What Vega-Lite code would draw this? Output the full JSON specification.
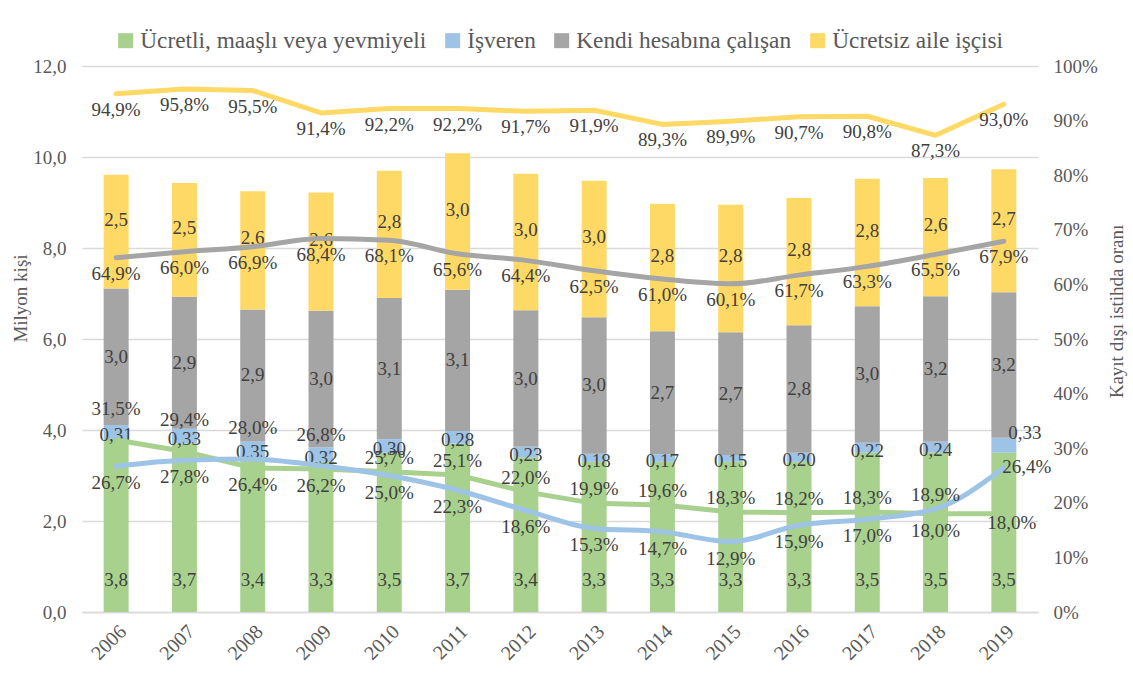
{
  "$schema": "https://vega.github.io/schema/vega-lite/v6.json",
  "width": 956,
  "height": 546,
  "autosize": {"type": "none"},
  "padding": {"left": 82, "top": 66, "right": 95, "bottom": 77},
  "background": "white",
  "config": {
    "locale": {"number": {"decimal": ",", "thousands": ".", "grouping": [3], "currency": ["", " TL"]}},
    "font": "Liberation Serif",
    "view": {"stroke": null},
    "text": {"font": "Liberation Serif", "fontSize": 19, "color": "#404040"},
    "axis": {"labelFont": "Liberation Serif", "titleFont": "Liberation Serif", "labelColor": "#595959", "titleColor": "#595959", "labelFontSize": 19, "titleFontSize": 19, "titleFontWeight": "normal"},
    "legend": {"labelFont": "Liberation Serif", "labelFontSize": 23.3, "labelColor": "#595959", "labelLimit": 0, "symbolType": "square", "symbolSize": 225, "symbolStrokeWidth": 0, "labelOffset": 3, "columnPadding": 14}
  },
  "datasets": {
    "bars": [
      {"year": "2006", "category": "Ücretli, maaşlı veya yevmiyeli", "rank": 1, "value": 3.8},
      {"year": "2006", "category": "İşveren", "rank": 2, "value": 0.31},
      {"year": "2006", "category": "Kendi hesabına çalışan", "rank": 3, "value": 3.0},
      {"year": "2006", "category": "Ücretsiz aile işçisi", "rank": 4, "value": 2.5},
      {"year": "2007", "category": "Ücretli, maaşlı veya yevmiyeli", "rank": 1, "value": 3.7},
      {"year": "2007", "category": "İşveren", "rank": 2, "value": 0.33},
      {"year": "2007", "category": "Kendi hesabına çalışan", "rank": 3, "value": 2.9},
      {"year": "2007", "category": "Ücretsiz aile işçisi", "rank": 4, "value": 2.5},
      {"year": "2008", "category": "Ücretli, maaşlı veya yevmiyeli", "rank": 1, "value": 3.4},
      {"year": "2008", "category": "İşveren", "rank": 2, "value": 0.35},
      {"year": "2008", "category": "Kendi hesabına çalışan", "rank": 3, "value": 2.9},
      {"year": "2008", "category": "Ücretsiz aile işçisi", "rank": 4, "value": 2.6},
      {"year": "2009", "category": "Ücretli, maaşlı veya yevmiyeli", "rank": 1, "value": 3.3},
      {"year": "2009", "category": "İşveren", "rank": 2, "value": 0.32},
      {"year": "2009", "category": "Kendi hesabına çalışan", "rank": 3, "value": 3.0},
      {"year": "2009", "category": "Ücretsiz aile işçisi", "rank": 4, "value": 2.6},
      {"year": "2010", "category": "Ücretli, maaşlı veya yevmiyeli", "rank": 1, "value": 3.5},
      {"year": "2010", "category": "İşveren", "rank": 2, "value": 0.30},
      {"year": "2010", "category": "Kendi hesabına çalışan", "rank": 3, "value": 3.1},
      {"year": "2010", "category": "Ücretsiz aile işçisi", "rank": 4, "value": 2.8},
      {"year": "2011", "category": "Ücretli, maaşlı veya yevmiyeli", "rank": 1, "value": 3.7},
      {"year": "2011", "category": "İşveren", "rank": 2, "value": 0.28},
      {"year": "2011", "category": "Kendi hesabına çalışan", "rank": 3, "value": 3.1},
      {"year": "2011", "category": "Ücretsiz aile işçisi", "rank": 4, "value": 3.0},
      {"year": "2012", "category": "Ücretli, maaşlı veya yevmiyeli", "rank": 1, "value": 3.4},
      {"year": "2012", "category": "İşveren", "rank": 2, "value": 0.23},
      {"year": "2012", "category": "Kendi hesabına çalışan", "rank": 3, "value": 3.0},
      {"year": "2012", "category": "Ücretsiz aile işçisi", "rank": 4, "value": 3.0},
      {"year": "2013", "category": "Ücretli, maaşlı veya yevmiyeli", "rank": 1, "value": 3.3},
      {"year": "2013", "category": "İşveren", "rank": 2, "value": 0.18},
      {"year": "2013", "category": "Kendi hesabına çalışan", "rank": 3, "value": 3.0},
      {"year": "2013", "category": "Ücretsiz aile işçisi", "rank": 4, "value": 3.0},
      {"year": "2014", "category": "Ücretli, maaşlı veya yevmiyeli", "rank": 1, "value": 3.3},
      {"year": "2014", "category": "İşveren", "rank": 2, "value": 0.17},
      {"year": "2014", "category": "Kendi hesabına çalışan", "rank": 3, "value": 2.7},
      {"year": "2014", "category": "Ücretsiz aile işçisi", "rank": 4, "value": 2.8},
      {"year": "2015", "category": "Ücretli, maaşlı veya yevmiyeli", "rank": 1, "value": 3.3},
      {"year": "2015", "category": "İşveren", "rank": 2, "value": 0.15},
      {"year": "2015", "category": "Kendi hesabına çalışan", "rank": 3, "value": 2.7},
      {"year": "2015", "category": "Ücretsiz aile işçisi", "rank": 4, "value": 2.8},
      {"year": "2016", "category": "Ücretli, maaşlı veya yevmiyeli", "rank": 1, "value": 3.3},
      {"year": "2016", "category": "İşveren", "rank": 2, "value": 0.20},
      {"year": "2016", "category": "Kendi hesabına çalışan", "rank": 3, "value": 2.8},
      {"year": "2016", "category": "Ücretsiz aile işçisi", "rank": 4, "value": 2.8},
      {"year": "2017", "category": "Ücretli, maaşlı veya yevmiyeli", "rank": 1, "value": 3.5},
      {"year": "2017", "category": "İşveren", "rank": 2, "value": 0.22},
      {"year": "2017", "category": "Kendi hesabına çalışan", "rank": 3, "value": 3.0},
      {"year": "2017", "category": "Ücretsiz aile işçisi", "rank": 4, "value": 2.8},
      {"year": "2018", "category": "Ücretli, maaşlı veya yevmiyeli", "rank": 1, "value": 3.5},
      {"year": "2018", "category": "İşveren", "rank": 2, "value": 0.24},
      {"year": "2018", "category": "Kendi hesabına çalışan", "rank": 3, "value": 3.2},
      {"year": "2018", "category": "Ücretsiz aile işçisi", "rank": 4, "value": 2.6},
      {"year": "2019", "category": "Ücretli, maaşlı veya yevmiyeli", "rank": 1, "value": 3.5},
      {"year": "2019", "category": "İşveren", "rank": 2, "value": 0.33},
      {"year": "2019", "category": "Kendi hesabına çalışan", "rank": 3, "value": 3.2},
      {"year": "2019", "category": "Ücretsiz aile işçisi", "rank": 4, "value": 2.7}
    ],
    "lines": [
      {"year": "2006", "category": "Ücretsiz aile işçisi", "rate": 0.949},
      {"year": "2007", "category": "Ücretsiz aile işçisi", "rate": 0.958},
      {"year": "2008", "category": "Ücretsiz aile işçisi", "rate": 0.955},
      {"year": "2009", "category": "Ücretsiz aile işçisi", "rate": 0.914},
      {"year": "2010", "category": "Ücretsiz aile işçisi", "rate": 0.922},
      {"year": "2011", "category": "Ücretsiz aile işçisi", "rate": 0.922},
      {"year": "2012", "category": "Ücretsiz aile işçisi", "rate": 0.917},
      {"year": "2013", "category": "Ücretsiz aile işçisi", "rate": 0.919},
      {"year": "2014", "category": "Ücretsiz aile işçisi", "rate": 0.893},
      {"year": "2015", "category": "Ücretsiz aile işçisi", "rate": 0.899},
      {"year": "2016", "category": "Ücretsiz aile işçisi", "rate": 0.907},
      {"year": "2017", "category": "Ücretsiz aile işçisi", "rate": 0.908},
      {"year": "2018", "category": "Ücretsiz aile işçisi", "rate": 0.873},
      {"year": "2019", "category": "Ücretsiz aile işçisi", "rate": 0.930},
      {"year": "2006", "category": "Kendi hesabına çalışan", "rate": 0.649},
      {"year": "2007", "category": "Kendi hesabına çalışan", "rate": 0.660},
      {"year": "2008", "category": "Kendi hesabına çalışan", "rate": 0.669},
      {"year": "2009", "category": "Kendi hesabına çalışan", "rate": 0.684},
      {"year": "2010", "category": "Kendi hesabına çalışan", "rate": 0.681},
      {"year": "2011", "category": "Kendi hesabına çalışan", "rate": 0.656},
      {"year": "2012", "category": "Kendi hesabına çalışan", "rate": 0.644},
      {"year": "2013", "category": "Kendi hesabına çalışan", "rate": 0.625},
      {"year": "2014", "category": "Kendi hesabına çalışan", "rate": 0.610},
      {"year": "2015", "category": "Kendi hesabına çalışan", "rate": 0.601},
      {"year": "2016", "category": "Kendi hesabına çalışan", "rate": 0.617},
      {"year": "2017", "category": "Kendi hesabına çalışan", "rate": 0.633},
      {"year": "2018", "category": "Kendi hesabına çalışan", "rate": 0.655},
      {"year": "2019", "category": "Kendi hesabına çalışan", "rate": 0.679},
      {"year": "2006", "category": "Ücretli, maaşlı veya yevmiyeli", "rate": 0.315},
      {"year": "2007", "category": "Ücretli, maaşlı veya yevmiyeli", "rate": 0.294},
      {"year": "2008", "category": "Ücretli, maaşlı veya yevmiyeli", "rate": 0.264},
      {"year": "2009", "category": "Ücretli, maaşlı veya yevmiyeli", "rate": 0.262},
      {"year": "2010", "category": "Ücretli, maaşlı veya yevmiyeli", "rate": 0.257},
      {"year": "2011", "category": "Ücretli, maaşlı veya yevmiyeli", "rate": 0.251},
      {"year": "2012", "category": "Ücretli, maaşlı veya yevmiyeli", "rate": 0.220},
      {"year": "2013", "category": "Ücretli, maaşlı veya yevmiyeli", "rate": 0.199},
      {"year": "2014", "category": "Ücretli, maaşlı veya yevmiyeli", "rate": 0.196},
      {"year": "2015", "category": "Ücretli, maaşlı veya yevmiyeli", "rate": 0.183},
      {"year": "2016", "category": "Ücretli, maaşlı veya yevmiyeli", "rate": 0.182},
      {"year": "2017", "category": "Ücretli, maaşlı veya yevmiyeli", "rate": 0.183},
      {"year": "2018", "category": "Ücretli, maaşlı veya yevmiyeli", "rate": 0.180},
      {"year": "2019", "category": "Ücretli, maaşlı veya yevmiyeli", "rate": 0.180},
      {"year": "2006", "category": "İşveren", "rate": 0.267},
      {"year": "2007", "category": "İşveren", "rate": 0.278},
      {"year": "2008", "category": "İşveren", "rate": 0.280},
      {"year": "2009", "category": "İşveren", "rate": 0.268},
      {"year": "2010", "category": "İşveren", "rate": 0.250},
      {"year": "2011", "category": "İşveren", "rate": 0.223},
      {"year": "2012", "category": "İşveren", "rate": 0.186},
      {"year": "2013", "category": "İşveren", "rate": 0.153},
      {"year": "2014", "category": "İşveren", "rate": 0.147},
      {"year": "2015", "category": "İşveren", "rate": 0.129},
      {"year": "2016", "category": "İşveren", "rate": 0.159},
      {"year": "2017", "category": "İşveren", "rate": 0.170},
      {"year": "2018", "category": "İşveren", "rate": 0.189},
      {"year": "2019", "category": "İşveren", "rate": 0.264}
    ]
  },
  "layer": [
    {
      "data": {"name": "bars"},
      "layer": [
        {
          "transform": [{"stack": "value", "groupby": ["year"], "sort": [{"field": "rank", "order": "ascending"}], "as": ["v0", "v1"]}],
          "mark": {"type": "bar"},
          "encoding": {
            "x": {"field": "year", "type": "ordinal", "scale": {"paddingInner": 0.634, "paddingOuter": 0.317}, "axis": {"labelAngle": -45, "title": null, "ticks": false, "domainColor": "#d9d9d9", "domainWidth": 1.5, "labelPadding": 9, "labelFontSize": 20}},
            "y": {"field": "v0", "type": "quantitative", "scale": {"domain": [0, 12]}, "axis": {"title": "Milyon kişi", "values": [0, 2, 4, 6, 8, 10, 12], "format": ".1f", "grid": true, "gridColor": "#d9d9d9", "gridWidth": 1.5, "domain": false, "ticks": false, "labelPadding": 16, "titlePadding": 2, "titleY": 232}},
            "y2": {"field": "v1"},
            "color": {"field": "category", "type": "nominal", "scale": {"domain": ["Ücretli, maaşlı veya yevmiyeli", "İşveren", "Kendi hesabına çalışan", "Ücretsiz aile işçisi"], "range": ["#A9D18E", "#9DC3E6", "#A5A5A5", "#FFD966"]}, "legend": {"title": null, "orient": "none", "direction": "horizontal", "legendX": 32, "legendY": -37}}
          }
        },
        {
          "transform": [
            {"stack": "value", "groupby": ["year"], "sort": [{"field": "rank", "order": "ascending"}], "as": ["v0", "v1"]},
            {"fold": ["v0", "v1"], "as": ["k", "pos"]},
            {"aggregate": [{"op": "mean", "field": "pos", "as": "mid"}, {"op": "min", "field": "pos", "as": "base"}, {"op": "max", "field": "value", "as": "val"}], "groupby": ["year", "category"]},
            {"filter": {"field": "category", "equal": "Kendi hesabına çalışan"}}
          ],
          "mark": {"type": "text"},
          "encoding": {
            "x": {"field": "year", "type": "ordinal"},
            "y": {"field": "mid", "type": "quantitative"},
            "text": {"field": "val", "type": "quantitative", "format": ".1f"}
          }
        },
        {
          "transform": [
            {"stack": "value", "groupby": ["year"], "sort": [{"field": "rank", "order": "ascending"}], "as": ["v0", "v1"]},
            {"fold": ["v0", "v1"], "as": ["k", "pos"]},
            {"aggregate": [{"op": "mean", "field": "pos", "as": "mid"}, {"op": "min", "field": "pos", "as": "base"}, {"op": "max", "field": "value", "as": "val"}], "groupby": ["year", "category"]},
            {"filter": {"field": "category", "equal": "Ücretsiz aile işçisi"}}
          ],
          "mark": {"type": "text", "dy": -12},
          "encoding": {
            "x": {"field": "year", "type": "ordinal"},
            "y": {"field": "mid", "type": "quantitative"},
            "text": {"field": "val", "type": "quantitative", "format": ".1f"}
          }
        },
        {
          "transform": [
            {"stack": "value", "groupby": ["year"], "sort": [{"field": "rank", "order": "ascending"}], "as": ["v0", "v1"]},
            {"fold": ["v0", "v1"], "as": ["k", "pos"]},
            {"aggregate": [{"op": "mean", "field": "pos", "as": "mid"}, {"op": "min", "field": "pos", "as": "base"}, {"op": "max", "field": "value", "as": "val"}], "groupby": ["year", "category"]},
            {"filter": {"and": [{"field": "category", "equal": "İşveren"}, {"not": {"field": "year", "equal": "2019"}}]}}
          ],
          "mark": {"type": "text", "dy": 3},
          "encoding": {
            "x": {"field": "year", "type": "ordinal"},
            "y": {"field": "mid", "type": "quantitative"},
            "text": {"field": "val", "type": "quantitative", "format": ".2f"}
          }
        },
        {
          "transform": [
            {"stack": "value", "groupby": ["year"], "sort": [{"field": "rank", "order": "ascending"}], "as": ["v0", "v1"]},
            {"fold": ["v0", "v1"], "as": ["k", "pos"]},
            {"aggregate": [{"op": "mean", "field": "pos", "as": "mid"}, {"op": "min", "field": "pos", "as": "base"}, {"op": "max", "field": "value", "as": "val"}], "groupby": ["year", "category"]},
            {"filter": {"and": [{"field": "category", "equal": "İşveren"}, {"field": "year", "equal": "2019"}]}}
          ],
          "mark": {"type": "text", "dx": 21, "dy": -12},
          "encoding": {
            "x": {"field": "year", "type": "ordinal"},
            "y": {"field": "mid", "type": "quantitative"},
            "text": {"field": "val", "type": "quantitative", "format": ".2f"}
          }
        },
        {
          "transform": [
            {"stack": "value", "groupby": ["year"], "sort": [{"field": "rank", "order": "ascending"}], "as": ["v0", "v1"]},
            {"fold": ["v0", "v1"], "as": ["k", "pos"]},
            {"aggregate": [{"op": "mean", "field": "pos", "as": "mid"}, {"op": "min", "field": "pos", "as": "base"}, {"op": "max", "field": "value", "as": "val"}], "groupby": ["year", "category"]},
            {"filter": {"field": "category", "equal": "Ücretli, maaşlı veya yevmiyeli"}}
          ],
          "mark": {"type": "text", "dy": -32},
          "encoding": {
            "x": {"field": "year", "type": "ordinal"},
            "y": {"field": "base", "type": "quantitative"},
            "text": {"field": "val", "type": "quantitative", "format": ".1f"}
          }
        }
      ]
    },
    {
      "data": {"name": "lines"},
      "layer": [
        {
          "transform": [{"filter": {"field": "category", "oneOf": ["Ücretsiz aile işçisi", "Ücretli, maaşlı veya yevmiyeli"]}}],
          "mark": {"type": "line", "strokeWidth": 5, "strokeCap": "round", "strokeJoin": "round"},
          "encoding": {
            "x": {"field": "year", "type": "ordinal"},
            "y": {"field": "rate", "type": "quantitative", "scale": {"domain": [0, 1]}, "axis": {"orient": "right", "title": "Kayıt dışı istihda oranı", "values": [0, 0.1, 0.2, 0.3, 0.4, 0.5, 0.6, 0.7, 0.8, 0.9, 1], "format": ".0%", "grid": false, "domain": false, "ticks": false, "labelPadding": 15, "titlePadding": 29, "titleAngle": 270, "titleY": 245}},
            "color": {"field": "category", "type": "nominal", "legend": null}
          }
        },
        {
          "transform": [{"filter": {"field": "category", "oneOf": ["Kendi hesabına çalışan", "İşveren"]}}],
          "mark": {"type": "line", "strokeWidth": 5, "strokeCap": "round", "strokeJoin": "round", "interpolate": "monotone"},
          "encoding": {
            "x": {"field": "year", "type": "ordinal"},
            "y": {"field": "rate", "type": "quantitative"},
            "color": {"field": "category", "type": "nominal", "legend": null}
          }
        },
        {
          "transform": [{"filter": {"field": "category", "oneOf": ["Ücretsiz aile işçisi", "Kendi hesabına çalışan"]}}],
          "mark": {"type": "text", "dy": 16},
          "encoding": {
            "x": {"field": "year", "type": "ordinal"},
            "y": {"field": "rate", "type": "quantitative"},
            "text": {"field": "rate", "type": "quantitative", "format": ".1%"}
          }
        },
        {
          "transform": [
            {"filter": {"field": "category", "oneOf": ["Ücretli, maaşlı veya yevmiyeli", "İşveren"]}},
            {"joinaggregate": [{"op": "max", "field": "rate", "as": "mx"}], "groupby": ["year"]},
            {"filter": "datum.rate >= datum.mx && datum.year != '2019' && datum.rate > 0.26"}
          ],
          "mark": {"type": "text", "dy": -31},
          "encoding": {
            "x": {"field": "year", "type": "ordinal"},
            "y": {"field": "rate", "type": "quantitative"},
            "text": {"field": "rate", "type": "quantitative", "format": ".1%"}
          }
        },
        {
          "transform": [
            {"filter": {"field": "category", "oneOf": ["Ücretli, maaşlı veya yevmiyeli", "İşveren"]}},
            {"joinaggregate": [{"op": "max", "field": "rate", "as": "mx"}], "groupby": ["year"]},
            {"filter": "datum.rate >= datum.mx && datum.year != '2019' && datum.rate <= 0.26"}
          ],
          "mark": {"type": "text", "dy": -14},
          "encoding": {
            "x": {"field": "year", "type": "ordinal"},
            "y": {"field": "rate", "type": "quantitative"},
            "text": {"field": "rate", "type": "quantitative", "format": ".1%"}
          }
        },
        {
          "transform": [
            {"filter": {"field": "category", "oneOf": ["Ücretli, maaşlı veya yevmiyeli", "İşveren"]}},
            {"joinaggregate": [{"op": "max", "field": "rate", "as": "mx"}], "groupby": ["year"]},
            {"filter": "datum.rate < datum.mx && datum.year != '2019'"}
          ],
          "mark": {"type": "text", "dy": 17},
          "encoding": {
            "x": {"field": "year", "type": "ordinal"},
            "y": {"field": "rate", "type": "quantitative"},
            "text": {"field": "rate", "type": "quantitative", "format": ".1%"}
          }
        },
        {
          "transform": [
            {"filter": {"and": [{"field": "category", "equal": "İşveren"}, {"field": "year", "equal": "2019"}]}}
          ],
          "mark": {"type": "text", "dx": 23, "dy": -1},
          "encoding": {
            "x": {"field": "year", "type": "ordinal"},
            "y": {"field": "rate", "type": "quantitative"},
            "text": {"field": "rate", "type": "quantitative", "format": ".1%"}
          }
        },
        {
          "transform": [
            {"filter": {"and": [{"field": "category", "equal": "Ücretli, maaşlı veya yevmiyeli"}, {"field": "year", "equal": "2019"}]}}
          ],
          "mark": {"type": "text", "dx": 8, "dy": 9},
          "encoding": {
            "x": {"field": "year", "type": "ordinal"},
            "y": {"field": "rate", "type": "quantitative"},
            "text": {"field": "rate", "type": "quantitative", "format": ".1%"}
          }
        }
      ]
    }
  ],
  "resolve": {"scale": {"y": "independent"}}
}
